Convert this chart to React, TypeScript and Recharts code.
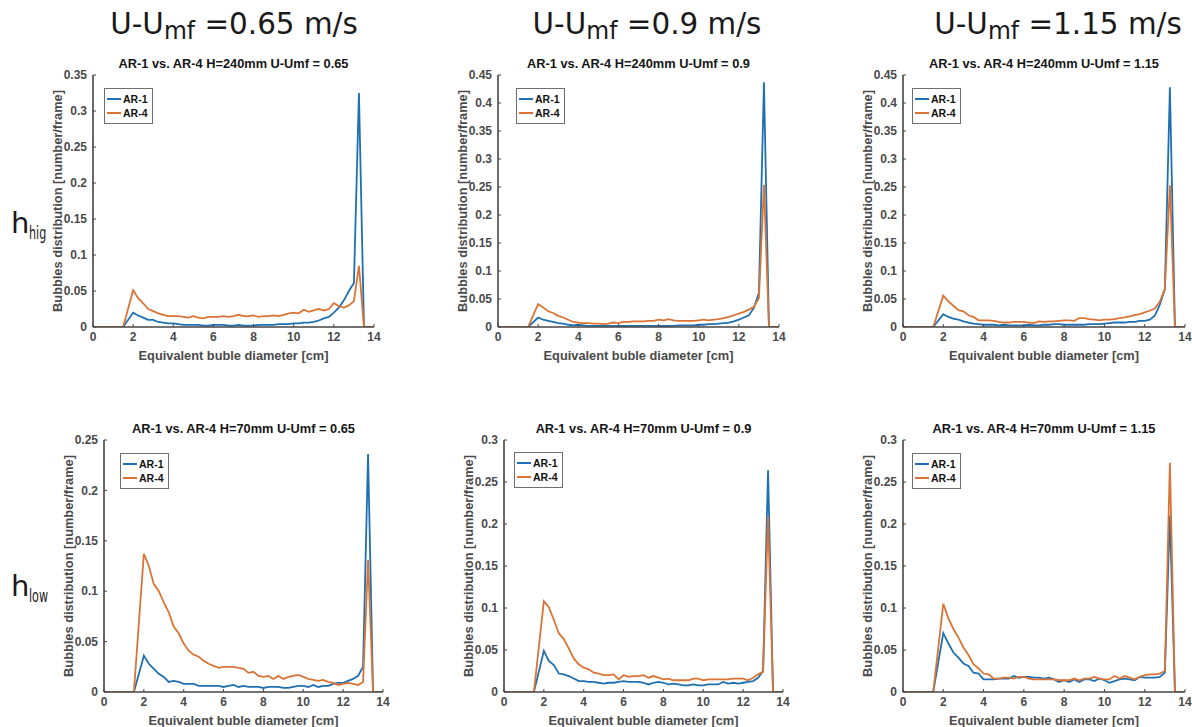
import React from 'react';
import { LineChart, Line, XAxis, YAxis, Legend, Label } from 'recharts';

// ---------- DATA ----------
const diameters = [
  0, 0.25, 0.5, 0.75, 1, 1.25, 1.5,
  2, 2.25, 2.5, 2.75, 3, 3.25, 3.5, 3.75, 4, 4.25, 4.5, 4.75,
  5, 5.25, 5.5, 5.75, 6, 6.25, 6.5, 6.75, 7, 7.25, 7.5, 7.75,
  8, 8.25, 8.5, 8.75, 9, 9.25, 9.5, 9.75, 10, 10.25, 10.5, 10.75,
  11, 11.25, 11.5, 11.75, 12, 12.25, 12.5, 12.75, 13, 13.25,
  13.5, 13.75, 14,
];

const ar1_h240_065 = [0, 0, 0, 0, 0, 0, 0,
  0.020, 0.016, 0.013, 0.010, 0.010, 0.007, 0.006, 0.005, 0.005, 0.004, 0.003, 0.003,
  0.003, 0.003, 0.002, 0.002, 0.003, 0.003, 0.003, 0.002, 0.002, 0.003, 0.002, 0.002,
  0.002, 0.003, 0.003, 0.003, 0.003, 0.004, 0.004, 0.004, 0.005, 0.005, 0.006, 0.006,
  0.007, 0.009, 0.012, 0.014, 0.020, 0.027, 0.037, 0.050, 0.061, 0.325,
  0, 0, 0];
const ar4_h240_065 = [0, 0, 0, 0, 0, 0, 0,
  0.051, 0.040, 0.033, 0.025, 0.022, 0.019, 0.017, 0.015, 0.015, 0.015, 0.014, 0.013,
  0.015, 0.013, 0.012, 0.014, 0.014, 0.014, 0.015, 0.014, 0.015, 0.017, 0.015, 0.015,
  0.016, 0.014, 0.015, 0.015, 0.016, 0.015, 0.017, 0.019, 0.020, 0.019, 0.024, 0.021,
  0.023, 0.025, 0.023, 0.025, 0.033, 0.029, 0.027, 0.030, 0.036, 0.085,
  0, 0, 0];

const ar1_h240_09 = [0, 0, 0, 0, 0, 0, 0,
  0.017, 0.013, 0.011, 0.009, 0.007, 0.006, 0.004, 0.003, 0.004, 0.003, 0.002, 0.002,
  0.002, 0.002, 0.002, 0.002, 0.002, 0.002, 0.002, 0.002, 0.002, 0.002, 0.002, 0.002,
  0.002, 0.002, 0.002, 0.002, 0.003, 0.003, 0.003, 0.003, 0.004, 0.004, 0.005, 0.005,
  0.006, 0.007, 0.008, 0.010, 0.013, 0.017, 0.021, 0.034, 0.061, 0.437,
  0, 0, 0];
const ar4_h240_09 = [0, 0, 0, 0, 0, 0, 0,
  0.041, 0.035, 0.028, 0.025, 0.020, 0.017, 0.013, 0.009, 0.008, 0.007, 0.007, 0.006,
  0.006, 0.005, 0.006, 0.008, 0.007, 0.009, 0.009, 0.010, 0.010, 0.010, 0.011, 0.011,
  0.013, 0.012, 0.014, 0.012, 0.011, 0.011, 0.011, 0.011, 0.012, 0.013, 0.012, 0.013,
  0.014, 0.016, 0.018, 0.021, 0.024, 0.027, 0.031, 0.036, 0.052, 0.254,
  0, 0, 0];

const ar1_h240_115 = [0, 0, 0, 0, 0, 0, 0,
  0.023, 0.018, 0.015, 0.013, 0.010, 0.008, 0.006, 0.005, 0.004, 0.004, 0.004, 0.003,
  0.004, 0.003, 0.003, 0.003, 0.003, 0.004, 0.003, 0.003, 0.004, 0.004, 0.005, 0.005,
  0.004, 0.004, 0.004, 0.004, 0.004, 0.005, 0.005, 0.005, 0.006, 0.007, 0.008, 0.008,
  0.008, 0.009, 0.009, 0.011, 0.011, 0.013, 0.020, 0.040, 0.068, 0.428,
  0, 0, 0];
const ar4_h240_115 = [0, 0, 0, 0, 0, 0, 0,
  0.056, 0.046, 0.038, 0.030, 0.028, 0.021, 0.018, 0.012, 0.012, 0.012, 0.011, 0.009,
  0.008, 0.008, 0.009, 0.009, 0.009, 0.008, 0.007, 0.010, 0.009, 0.010, 0.010, 0.011,
  0.012, 0.012, 0.011, 0.016, 0.016, 0.014, 0.013, 0.012, 0.013, 0.013, 0.014, 0.016,
  0.017, 0.019, 0.021, 0.023, 0.026, 0.029, 0.033, 0.045, 0.068, 0.253,
  0, 0, 0];

const ar1_h70_065 = [0, 0, 0, 0, 0, 0, 0,
  0.036, 0.028, 0.023, 0.018, 0.015, 0.010, 0.011, 0.010, 0.008, 0.008, 0.008, 0.006,
  0.006, 0.006, 0.006, 0.006, 0.005, 0.006, 0.007, 0.005, 0.006, 0.005, 0.005, 0.005,
  0.004, 0.005, 0.005, 0.005, 0.004, 0.004, 0.005, 0.006, 0.006, 0.005, 0.007, 0.005,
  0.006, 0.006, 0.008, 0.009, 0.009, 0.011, 0.013, 0.016, 0.025, 0.236,
  0, 0, 0];
const ar4_h70_065 = [0, 0, 0, 0, 0, 0, 0,
  0.137, 0.125, 0.107, 0.100, 0.089, 0.079, 0.065, 0.058, 0.048, 0.041, 0.037, 0.035,
  0.031, 0.028, 0.026, 0.024, 0.025, 0.025, 0.025, 0.024, 0.023, 0.019, 0.020, 0.016,
  0.015, 0.016, 0.013, 0.016, 0.013, 0.015, 0.016, 0.017, 0.015, 0.013, 0.012, 0.011,
  0.012, 0.010, 0.009, 0.007, 0.008, 0.009, 0.008, 0.007, 0.010, 0.131,
  0, 0, 0];

const ar1_h70_09 = [0, 0, 0, 0, 0, 0, 0,
  0.049, 0.037, 0.032, 0.022, 0.021, 0.019, 0.016, 0.013, 0.013, 0.012, 0.012, 0.011,
  0.010, 0.011, 0.011, 0.012, 0.013, 0.012, 0.012, 0.012, 0.011, 0.009, 0.011, 0.012,
  0.011, 0.009, 0.010, 0.009, 0.008, 0.008, 0.009, 0.008, 0.008, 0.009, 0.009, 0.009,
  0.012, 0.010, 0.011, 0.010, 0.011, 0.012, 0.013, 0.017, 0.025, 0.264,
  0, 0, 0];
const ar4_h70_09 = [0, 0, 0, 0, 0, 0, 0,
  0.108, 0.101, 0.086, 0.070, 0.063, 0.052, 0.040, 0.033, 0.029, 0.027, 0.023, 0.022,
  0.020, 0.020, 0.021, 0.015, 0.020, 0.018, 0.019, 0.019, 0.020, 0.017, 0.019, 0.017,
  0.015, 0.016, 0.014, 0.014, 0.014, 0.014, 0.016, 0.016, 0.014, 0.015, 0.015, 0.015,
  0.015, 0.015, 0.016, 0.016, 0.016, 0.014, 0.017, 0.021, 0.024, 0.209,
  0, 0, 0];

const ar1_h70_115 = [0, 0, 0, 0, 0, 0, 0,
  0.070, 0.058, 0.047, 0.041, 0.034, 0.031, 0.023, 0.022, 0.015, 0.015, 0.015, 0.016,
  0.016, 0.016, 0.019, 0.017, 0.018, 0.018, 0.017, 0.017, 0.016, 0.017, 0.015, 0.012,
  0.014, 0.012, 0.015, 0.012, 0.015, 0.015, 0.013, 0.016, 0.014, 0.011, 0.013, 0.015,
  0.016, 0.015, 0.014, 0.018, 0.017, 0.017, 0.017, 0.018, 0.023, 0.210,
  0, 0, 0];
const ar4_h70_115 = [0, 0, 0, 0, 0, 0, 0,
  0.105, 0.088, 0.075, 0.065, 0.053, 0.044, 0.033, 0.028, 0.022, 0.021, 0.016, 0.016,
  0.017, 0.017, 0.016, 0.018, 0.018, 0.016, 0.015, 0.015, 0.015, 0.015, 0.015, 0.014,
  0.014, 0.014, 0.016, 0.014, 0.016, 0.016, 0.018, 0.016, 0.015, 0.015, 0.019, 0.016,
  0.019, 0.017, 0.015, 0.018, 0.020, 0.021, 0.021, 0.022, 0.025, 0.273,
  0, 0, 0];

const xTicks = [0, 2, 4, 6, 8, 10, 12, 14];
const yTicks035 = [0, 0.05, 0.1, 0.15, 0.2, 0.25, 0.3, 0.35];
const yTicks045 = [0, 0.05, 0.1, 0.15, 0.2, 0.25, 0.3, 0.35, 0.4, 0.45];
const yTicks025 = [0, 0.05, 0.1, 0.15, 0.2, 0.25];
const yTicks03 = [0, 0.05, 0.1, 0.15, 0.2, 0.25, 0.3];

const panelTitles = [
  'AR-1 vs. AR-4 H=240mm U-Umf = 0.65',
  'AR-1 vs. AR-4 H=240mm U-Umf = 0.9',
  'AR-1 vs. AR-4 H=240mm U-Umf = 1.15',
  'AR-1 vs. AR-4 H=70mm U-Umf = 0.65',
  'AR-1 vs. AR-4 H=70mm U-Umf = 0.9',
  'AR-1 vs. AR-4 H=70mm U-Umf = 1.15',
];
const panelAR1 = [ar1_h240_065, ar1_h240_09, ar1_h240_115, ar1_h70_065, ar1_h70_09, ar1_h70_115];
const panelAR4 = [ar4_h240_065, ar4_h240_09, ar4_h240_115, ar4_h70_065, ar4_h70_09, ar4_h70_115];
const panelYTicks = [yTicks035, yTicks045, yTicks045, yTicks025, yTicks03, yTicks03];
const speedLabels = ['0.65', '0.9', '1.15'];

// ---------- LAYOUT / STYLE ----------
const BLUE = '#1f70b2';
const ORANGE = '#da7436';
const AXIS = '#444444';
const TICKTXT = '#4a4a4a';
const FONT = '"Liberation Sans", Arial, Helvetica, sans-serif';

// plot-area boxes [left, top, width, height]
const plotBoxes = [
  [93, 75, 281, 252],
  [498, 75, 281, 252],
  [903, 75, 282, 252],
  [104, 440, 279, 252],
  [504, 440, 279, 252],
  [903, 440, 282, 252],
];
const legendOffsets = [[11, 13], [18, 13], [9, 13], [16, 13], [10, 12], [9, 13]];
const headerCenters = [234, 647, 1058];

const M_LEFT = 30;
const Y_W = 40;
const M_TOP = 20;
const M_RIGHT = 15;
const M_BOTTOM = 10;
const X_H = 35;

const XLabelContent = (props: any) => {
  const vb = props.viewBox || {};
  const cx = vb.x + vb.width / 2;
  const cy = vb.y + 28;
  return (
    <text x={cx} y={cy} textAnchor="middle" dominantBaseline="central"
      fontFamily={FONT} fontWeight="bold" fontSize={12.8} fill={TICKTXT}>
      Equivalent buble diameter [cm]
    </text>
  );
};

const YLabelContent = (props: any) => {
  const vb = props.viewBox || {};
  const cx = vb.x + vb.width - 36;
  const cy = vb.y + vb.height / 2;
  return (
    <text x={cx} y={cy} textAnchor="middle" dominantBaseline="central"
      transform={`rotate(-90 ${cx} ${cy})`}
      fontFamily={FONT} fontWeight="bold" fontSize={12.8} fill={TICKTXT}>
      Bubbles distribution [number/frame]
    </text>
  );
};

const LegendBox = (props: any) => {
  const payload = props.payload || [];
  return (
    <div style={{
      border: '1px solid #6e6e6e', background: '#fff', padding: '3px 4px 3px 2px',
      fontFamily: FONT, fontWeight: 'bold', fontSize: 10.5, color: '#111',
      display: 'inline-block', lineHeight: '13px',
    }}>
      {payload.map((p: any) => (
        <div key={p.value} style={{ display: 'flex', alignItems: 'center', height: 14 }}>
          <span style={{ display: 'inline-block', width: 14, height: 2, background: p.color, marginRight: 2 }} />
          <span>{p.value}</span>
        </div>
      ))}
    </div>
  );
};

const Panel = ({ idx }: { idx: number }) => {
  const [left, top, w, h] = plotBoxes[idx];
  const yTicks = panelYTicks[idx];
  const yMax = yTicks[yTicks.length - 1];
  const rows = diameters.map((x, i) => ({ x, a1: panelAR1[idx][i], a4: panelAR4[idx][i] }));
  const [lx, ly] = legendOffsets[idx];
  const chartW = w + M_LEFT + Y_W + M_RIGHT;
  const chartH = h + M_TOP + M_BOTTOM + X_H;
  const tickStyle = { fill: TICKTXT, fontSize: 12, fontWeight: 'bold', fontFamily: FONT };
  return (
    <>
      <div style={{
        position: 'absolute', left: left - 30, width: w + 60, top: top - 18, textAlign: 'center',
        fontFamily: FONT, fontWeight: 'bold', fontSize: 12.8, lineHeight: '14px', color: '#151515',
        whiteSpace: 'nowrap',
      }}>
        {panelTitles[idx]}
      </div>
      <div style={{ position: 'absolute', left: left - M_LEFT - Y_W, top: top - M_TOP }}>
        <LineChart width={chartW} height={chartH} data={rows}
          margin={{ top: M_TOP, right: M_RIGHT, left: M_LEFT, bottom: M_BOTTOM }}>
          <XAxis dataKey="x" type="number" domain={[0, 14]} ticks={xTicks} allowDataOverflow
            height={X_H} tickSize={-3} tickMargin={8} stroke={AXIS}
            axisLine={{ strokeWidth: 1.6 }} tick={tickStyle} interval={0}>
            <Label content={XLabelContent} />
          </XAxis>
          <XAxis xAxisId="top" orientation="top" dataKey="x" type="number" domain={[0, 14]}
            ticks={xTicks} allowDataOverflow height={0} tickSize={-3} stroke={AXIS}
            axisLine={{ strokeWidth: 1.6 }} tick={false} />
          <YAxis type="number" domain={[0, yMax]} ticks={yTicks} allowDataOverflow width={Y_W}
            tickSize={-3} tickMargin={9} stroke={AXIS} axisLine={{ strokeWidth: 1.6 }}
            tick={tickStyle} interval={0}>
            <Label content={YLabelContent} />
          </YAxis>
          <YAxis yAxisId="right" orientation="right" type="number" domain={[0, yMax]} ticks={yTicks}
            allowDataOverflow width={0} tickSize={-3} stroke={AXIS}
            axisLine={{ strokeWidth: 1.6 }} tick={false} />
          <Legend layout="vertical" align="center" verticalAlign="middle" content={LegendBox}
            wrapperStyle={{ left: M_LEFT + Y_W + lx, top: M_TOP + ly, width: 'auto', height: 'auto' }} />
          <Line dataKey="a1" name="AR-1" type="linear" stroke={BLUE} strokeWidth={1.8}
            dot={false} isAnimationActive={false} />
          <Line dataKey="a4" name="AR-4" type="linear" stroke={ORANGE} strokeWidth={1.8}
            dot={false} isAnimationActive={false} />
        </LineChart>
      </div>
    </>
  );
};

const headerFont = '"DejaVu Sans", Verdana, sans-serif';

const subStyle: React.CSSProperties = {
  fontSize: '0.62em', verticalAlign: '-0.35em', display: 'inline-block',
  transform: 'scaleX(0.62)', transformOrigin: 'left center',
};

export default function App() {
  return (
    <div style={{ position: 'absolute', left: 0, top: 0, width: 1192, height: 727, background: '#fff', overflow: 'hidden' }}>
      {speedLabels.map((s, i) => (
        <div key={s} style={{
          position: 'absolute', left: headerCenters[i] - 180, width: 360, top: 6, textAlign: 'center',
          fontFamily: headerFont, fontSize: 30, lineHeight: '36px', color: '#1a1a1a', whiteSpace: 'nowrap',
          transform: 'scaleX(0.98)',
        }}>
          U-U<span style={{ fontSize: '0.8em', verticalAlign: '-0.22em' }}>mf</span> ={s} m/s
        </div>
      ))}
      <div style={{ position: 'absolute', left: 11, top: 206, fontFamily: headerFont, fontSize: 29, lineHeight: '34px', color: '#1a1a1a', whiteSpace: 'nowrap' }}>
        h<span style={subStyle}>hig</span>
      </div>
      <div style={{ position: 'absolute', left: 11, top: 569, fontFamily: headerFont, fontSize: 29, lineHeight: '34px', color: '#1a1a1a', whiteSpace: 'nowrap' }}>
        h<span style={subStyle}>low</span>
      </div>
      {plotBoxes.map((_, i) => <Panel key={i} idx={i} />)}
    </div>
  );
}
